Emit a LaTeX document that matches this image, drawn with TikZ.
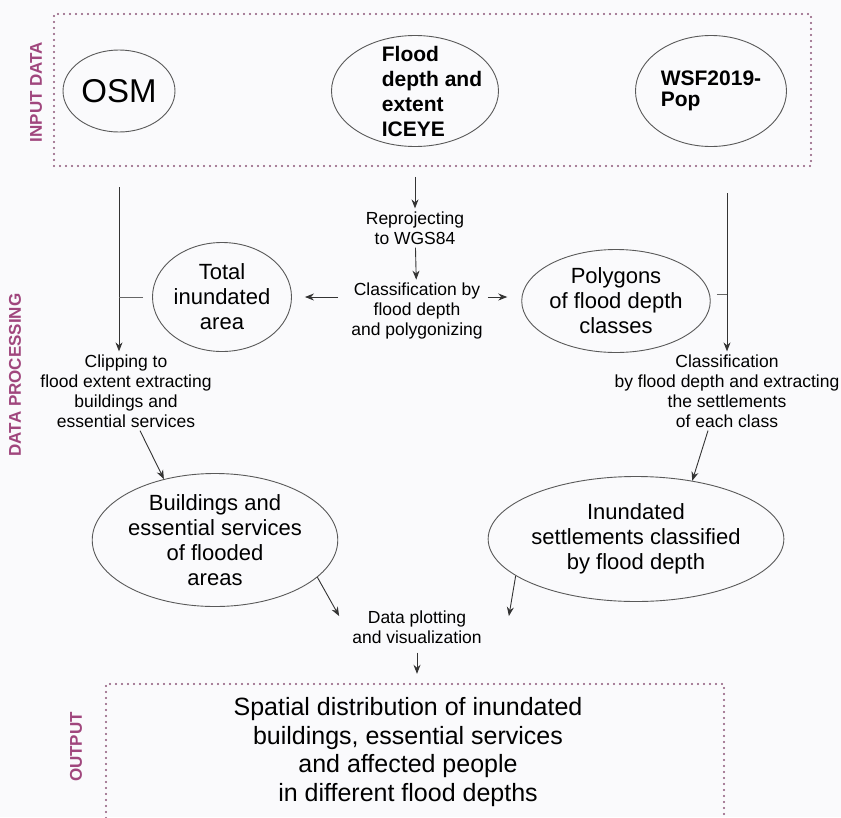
\documentclass[tikz,border=0pt]{standalone}
\usepackage{fontspec}
\setmainfont{Liberation Sans}
\usepackage{xcolor}
\usetikzlibrary{arrows.meta, positioning, shapes.geometric}

\definecolor{plum}{RGB}{160,70,125}
\definecolor{dotplum}{RGB}{140,85,120}
\definecolor{paper}{RGB}{250,250,252}

\begin{document}
\begin{tikzpicture}[
    x=1pt, y=-1pt,
    oval/.style={ellipse, draw=black!65, line width=0.9pt, inner sep=0pt, align=center, font=\fontsize{22}{25}\selectfont},
    proc/.style={align=center, inner sep=3pt, font=\fontsize{17.5}{20}\selectfont},
    frame/.style={draw=dotplum, line width=2.4pt, line cap=round, dash pattern=on 0pt off 6pt, inner sep=0pt},
    tag/.style={rotate=90, text=plum, font=\bfseries\fontsize{17}{20}\selectfont},
    arrow/.style={draw=black!80, line width=0.9pt, -{Stealth[length=9pt, width=7pt]}},
    tick/.style={draw=black!60, line width=0.9pt},
]
    \useasboundingbox (0,0) rectangle (841,817);
    \fill[paper] (0,0) rectangle (841,817);

    % Frames and section tags
    \node[frame, minimum width=757, minimum height=152] (inbox) at (432.5,90) {};
    \node[frame, minimum width=618, minimum height=166] (outbox) at (415,767) {};
    \node[tag] (intag) at (36,92) {INPUT DATA};
    \node[tag] (proctag) at (15,375) {DATA PROCESSING};
    \node[tag] (outtag) at (76,747) {OUTPUT};

    % Input data
    \node[oval, minimum width=112, minimum height=82, font=\fontsize{33}{36}\selectfont] (osm) at (119,91) {OSM};
    \node[oval, minimum width=167, minimum height=111] (iceye) at (415,91) {};
    \node[align=left, font=\bfseries\fontsize{21}{25}\selectfont] (iceyetxt) at ([xshift=17pt]iceye.center) {Flood\\depth and\\extent\\ICEYE};
    \node[oval, minimum width=151, minimum height=111, align=left, font=\bfseries\fontsize{21}{21}\selectfont] (wsf) at (711,91) {WSF2019-\\Pop};

    % Processing steps
    \node[proc] (reproj) at (415,228) {Reprojecting\\to WGS84};
    \node[proc] (classify) at (417,311) {Classification by\\flood depth\\and polygonizing};
    \node[oval, minimum width=139, minimum height=109] (total) at (222,297) {Total\\inundated\\area};
    \node[oval, minimum width=163, minimum height=103] (polygons) at (616,301) {Polygons\\of flood depth\\classes};
    \node[proc] (clip) at (126,391) {Clipping to\\flood extent extracting\\buildings and\\essential services};
    \node[proc] (depthclass) at (727,391) {Classification\\by flood depth and extracting\\the settlements\\of each class};
    \node[oval, minimum width=231, minimum height=133] (buildings) at (215,540) {Buildings and\\essential services\\of flooded\\areas};
    \node[oval, minimum width=236, minimum height=125] (inundated) at (636,539) {Inundated\\settlements classified\\by flood depth};
    \node[proc] (plot) at (417,627) {Data plotting\\and visualization};

    % Output
    \node[align=center, font=\fontsize{25}{28.5}\selectfont] (result) at (408,752) {Spatial distribution of inundated\\buildings, essential services\\and affected people\\in different flood depths};

    % Side branches start below the input frame
    \coordinate (osmout) at (119,187);
    \coordinate (wsfout) at (727,193);

    % Connect everything
    \draw[arrow] ([yshift=-30pt]iceye.south) -- (reproj);
    \draw[arrow] (reproj) -- (classify);
    \draw[arrow, shorten <=10pt, shorten >=13pt] (classify.west |- total.east) -- (total.east);
    \draw[arrow, shorten <=2pt, shorten >=14pt] (classify.east |- total.east) -- (polygons.west |- total.east);
    \draw[arrow] (osmout) -- (osmout |- clip.north);
    \draw[tick] ([xshift=-9pt]total.west) -- (osmout |- total.west);
    \draw[arrow] (wsfout) -- (wsfout |- depthclass.north);
    \draw[tick] ([xshift=7pt]polygons.4) -- (wsfout |- polygons.4);
    \draw[arrow] ([xshift=14pt]clip.south) -- (buildings.130);
    \draw[arrow] ([xshift=-19pt]depthclass.south) -- (inundated.46);
    \draw[arrow] (buildings.-20) -- ([xshift=-10pt, yshift=11pt]plot.west);
    \draw[arrow] (inundated.197) -- ([xshift=24pt, yshift=11pt]plot.east);
    \draw[arrow, shorten <=6pt, shorten >=9pt] (plot.south) -- (plot.south |- outbox.north);
\end{tikzpicture}
\end{document}
